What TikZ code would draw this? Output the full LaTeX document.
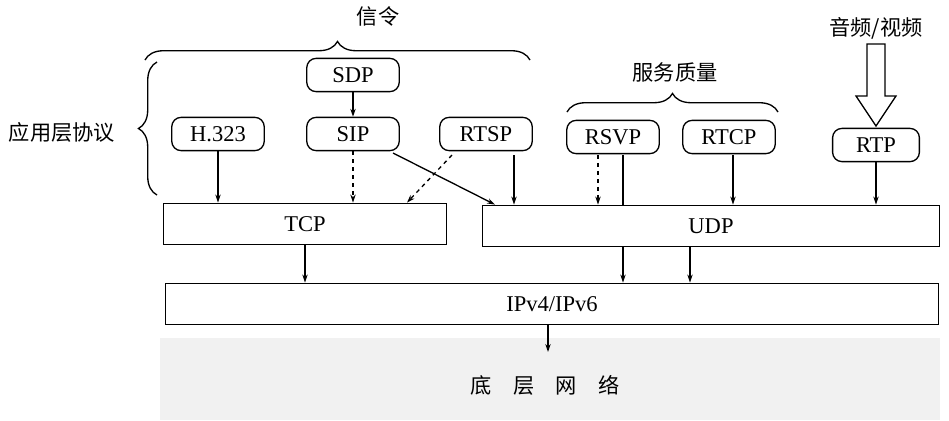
\documentclass[tikz,border=0pt]{standalone}
\usepackage{fontspec}
\setmainfont{Liberation Serif}
\newfontfamily\cjk{Noto Sans CJK SC}
\usetikzlibrary{arrows.meta, positioning, decorations.pathreplacing}

\begin{document}
\begin{tikzpicture}[x=0.0265cm, y=-0.0265cm, line width=1pt,
        proto/.style={rectangle, rounded corners=7pt, draw, minimum width=2.45cm, minimum height=0.88cm, font=\fontsize{17}{20}\selectfont},
        layer/.style={rectangle, draw, font=\fontsize{17}{20}\selectfont},
        arrow/.style={-{Stealth[length=6pt, width=4pt]}},
        darrow/.style={-{Stealth[length=6pt, width=4pt]}, dashed},
        brc/.style={decorate, decoration={brace, amplitude=14pt}},
        lbl/.style={font=\cjk\fontsize{16}{19}\selectfont}
    ]
        \useasboundingbox (0,0) rectangle (949,420);

        % Ground band
        \fill[gray!11] (160,338) rectangle (940,420);
        \node[lbl] (net) at (545,385) {底\quad 层\quad 网\quad 络};

        % Layers
        \node[layer, minimum width=7.5cm, minimum height=1.1cm] (tcp) at (305,224) {TCP};
        \node[layer, minimum width=12.1cm, minimum height=1.1cm] (udp) at (711,226) {UDP};
        \node[layer, minimum width=20.5cm, minimum height=1.1cm] (ip) at (552,304) {IPv4/IPv6};

        % Protocols
        \node[proto] (sdp) at (353,75) {SDP};
        \node[proto] (sip) at (353,134) {SIP};
        \node[proto] (h323) at (218,134) {H.323};
        \node[proto] (rtsp) at (486,134) {RTSP};
        \node[proto] (rsvp) at (613,137) {RSVP};
        \node[proto] (rtcp) at (729,137) {RTCP};
        \node[proto, minimum width=2.3cm] (rtp) at (876,145) {RTP};

        % Braces and labels
        \draw[brc] (145,60) -- (530,60);
        \node[lbl] (sig) at (378,16) {信令};
        \draw[brc] (567,112) -- (778,112);
        \node[lbl] (qos) at (675,72) {服务质量};
        \draw[brc] (157,195) -- (157,62);
        \node[lbl] (app) at (62,132) {应用层协议};
        \node[lbl] (av) at (876,28) {音频/视频};

        % Hollow arrow into RTP
        \draw[fill=white] (867,44) -- (885,44) -- (885,96) -- (896,96) -- (876,126)
            -- (856,96) -- (867,96) -- cycle;

        % Connectors to TCP
        \draw[arrow] (sdp) -- (sip);
        \draw[arrow] (h323) -- (h323 |- tcp.north);
        \draw[darrow] (sip) -- (sip |- tcp.north);
        \draw[darrow] (452,155) -- (407,0 |- tcp.north);

        % Connectors to UDP
        \draw[arrow] (393,153) -- (495,0 |- udp.north);
        \draw[arrow] (514,155) -- (514,0 |- udp.north);
        \draw[darrow] (598,155) -- (598,0 |- udp.north);
        \draw (623,155) -- (623,0 |- udp.north);
        \draw[arrow] (733,155) -- (733,0 |- udp.north);
        \draw[arrow] (rtp) -- (rtp |- udp.north);

        % Down to IP and network
        \draw[arrow] (tcp.south) -- (tcp.south |- ip.north);
        \draw[arrow] (623,0 |- udp.south) -- (623,0 |- ip.north);
        \draw[arrow] (690,0 |- udp.south) -- (690,0 |- ip.north);
        \draw[arrow] (548,0 |- ip.south) -- (548,352);
    \end{tikzpicture}
\end{document}
